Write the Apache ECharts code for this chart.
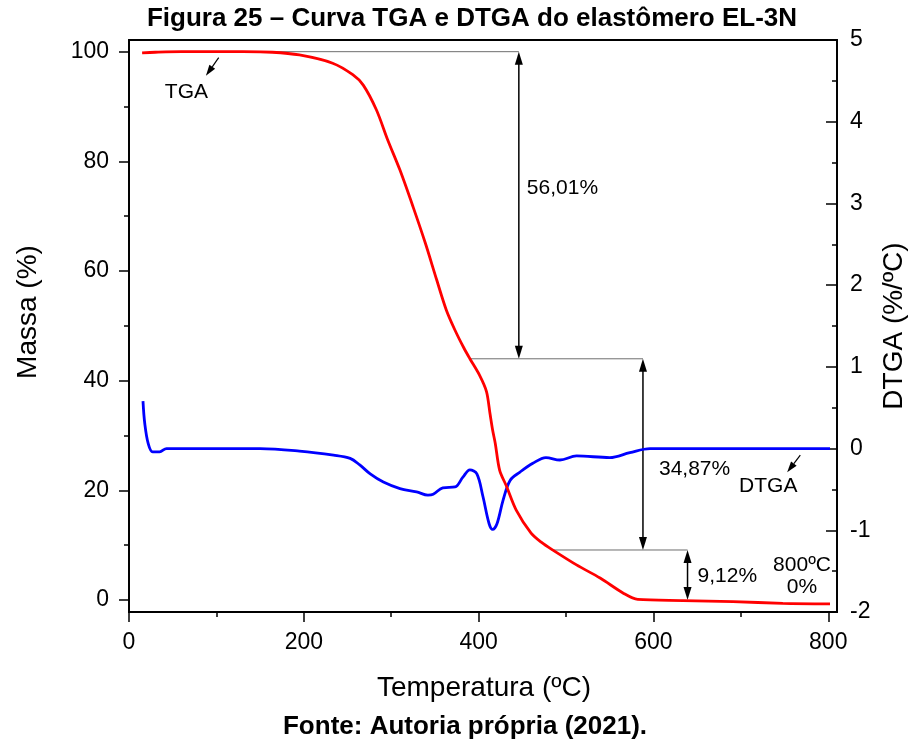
<!DOCTYPE html>
<html>
<head>
<meta charset="utf-8">
<title>Curva TGA e DTGA do elastômero EL-3N</title>
<script src="https://cdn.jsdelivr.net/npm/echarts@6/dist/echarts.min.js"></script>
<style>
  html, body { margin: 0; padding: 0; background: #ffffff; }
  #chart { width: 911px; height: 749px; }
</style>
</head>
<body>
<div id="chart"></div>
<script>
// TGA curve: temperature (ºC) and residual mass (%)
const tgaTemp = [15, 30, 60, 100, 130, 164, 195, 233, 256, 268, 283, 296, 310, 325, 339, 352, 363, 373, 383, 390,
                 401, 409, 413, 416, 419, 424, 432, 443, 460, 472, 485, 512, 539, 566, 582, 634, 691, 748, 802];
const tgaMass = [99.8, 99.9, 100, 100, 100, 99.9, 99.4, 97.9, 95.8, 93.9, 89.4, 83.9, 78.4, 71.7, 65.1, 58.4, 52.9, 49.2, 46.0, 44.0,
                 41.0, 38.0, 34.0, 31.0, 28.6, 23.7, 20.7, 16.4, 12.2, 10.5, 9.1, 6.4, 4.0, 1.2, 0.1, -0.1, -0.3, -0.6, -0.7];

// DTGA curve: temperature (ºC) and mass-loss rate (%/ºC)
const dtgaTemp = [16, 18, 22, 27, 35, 43, 150, 195, 234, 253, 264, 276, 291, 310, 329, 342, 348, 359, 373, 382,
                  390, 398, 405, 412, 416, 421, 428, 436, 447, 462, 477, 493, 512, 550, 573, 596, 802];
const dtgaRate = [0.58, 0.31, 0.06, -0.04, -0.04, 0, 0, -0.03, -0.08, -0.12, -0.2, -0.31, -0.41, -0.49, -0.53, -0.57, -0.56, -0.48, -0.47, -0.35,
                  -0.26, -0.31, -0.59, -0.92, -0.99, -0.92, -0.63, -0.39, -0.29, -0.18, -0.11, -0.14, -0.09, -0.11, -0.05, 0, 0];

// Mass-loss steps: mass levels bounding each step, the loss text, where each arrow stands
const stepLevels = [100, 43.99, 9.12, 0];
const stepLoss = ['56,01%', '34,87%', '9,12%'];
const stepArrowTemp = [446, 588, 639];
const stepLineStart = [150, 390, 485];

// Axis ticks
const tempTicks = [0, 200, 400, 600, 800];
const tempMinorTicks = [100, 300, 500, 700];
const massTicks = [0, 20, 40, 60, 80, 100];
const massMinorTicks = [10, 30, 50, 70, 90];

const FONT = "'Liberation Sans', Arial, sans-serif";

const tgaData = tgaTemp.map((t, i) => [t, tgaMass[i]]);
const dtgaData = dtgaTemp.map((t, i) => [t, dtgaRate[i]]);
const stepData = stepLoss.map((_, i) => [stepArrowTemp[i], stepLevels[i], stepLevels[i + 1], stepLineStart[i]]);

// where each step's text sits: mass level of its centre and gap to the right of the arrow
const stepTextPlace = [{ mass: 75.1, dx: 8 }, { mass: 23.9, dx: 16 }, { mass: 4.4, dx: 10 }];

function arrowHead(tip, dirY) {
  const len = 13, half = 4;
  return {
    type: 'polygon',
    shape: { points: [[tip[0], tip[1]], [tip[0] - half, tip[1] + dirY * len], [tip[0] + half, tip[1] + dirY * len]] },
    style: { fill: '#000000' }
  };
}

function renderStep(params, api) {
  const t = api.value(0), top = api.value(1), bot = api.value(2), start = api.value(3);
  const pTop = api.coord([t, top]);
  const pBot = api.coord([t, bot]);
  const pStart = api.coord([start, top]);
  const place = stepTextPlace[params.dataIndex];
  const pText = api.coord([t, place.mass]);
  return {
    type: 'group',
    children: [
      { type: 'line', shape: { x1: pStart[0], y1: pTop[1], x2: pTop[0], y2: pTop[1] },
        style: { stroke: '#6e6e6e', lineWidth: 1 } },
      { type: 'line', shape: { x1: pTop[0], y1: pTop[1] + 6, x2: pBot[0], y2: pBot[1] - 6 },
        style: { stroke: '#000000', lineWidth: 1.5 } },
      arrowHead(pTop, 1),
      arrowHead(pBot, -1),
      { type: 'text', x: pTop[0] + place.dx, y: pText[1],
        style: { text: stepLoss[params.dataIndex], fill: '#000000', fontSize: 21, fontFamily: FONT,
                 align: 'left', verticalAlign: 'middle' } }
    ]
  };
}

const axisLineStyle = { color: '#000000', width: 1.8 };
const tickStyle = { color: '#000000', width: 1.5 };
const tickLabel = { color: '#000000', fontSize: 23, fontFamily: FONT };

const chart = echarts.init(document.getElementById('chart'), null, { renderer: 'canvas' });

chart.setOption({
  animation: false,
  backgroundColor: '#ffffff',
  grid: { left: 129, right: 74, top: 40, bottom: 137, show: true, borderColor: '#000000', borderWidth: 1.8,
          backgroundColor: 'transparent' },
  xAxis: [
    { type: 'value', min: 0, max: 810, position: 'bottom',
      axisLine: { show: true, onZero: false, lineStyle: axisLineStyle },
      axisTick: { show: true, length: 10, lineStyle: tickStyle, customValues: tempTicks },
      axisLabel: { ...tickLabel, margin: 19, customValues: tempTicks },
      splitLine: { show: false } },
    { type: 'value', min: 0, max: 810, position: 'bottom',
      axisLine: { show: false, onZero: false },
      axisTick: { show: true, length: 5, lineStyle: tickStyle, customValues: tempMinorTicks },
      axisLabel: { show: false },
      splitLine: { show: false } }
  ],
  yAxis: [
    { type: 'value', min: -2.19, max: 102.13, position: 'left',
      axisLine: { show: true, onZero: false, lineStyle: axisLineStyle },
      axisTick: { show: true, length: 10, lineStyle: tickStyle, customValues: massTicks },
      axisLabel: { ...tickLabel, margin: 20, customValues: massTicks },
      splitLine: { show: false } },
    { type: 'value', min: -2, max: 5, interval: 1, position: 'right',
      axisLine: { show: true, onZero: false, lineStyle: axisLineStyle },
      axisTick: { show: true, inside: true, length: 11, lineStyle: tickStyle },
      minorTick: { show: true, splitNumber: 2, length: 5, lineStyle: tickStyle },
      axisLabel: { ...tickLabel, margin: 13 },
      splitLine: { show: false } },
    { type: 'value', min: -2.19, max: 102.13, position: 'left',
      axisLine: { show: false, onZero: false },
      axisTick: { show: true, length: 5, lineStyle: tickStyle, customValues: massMinorTicks },
      axisLabel: { show: false },
      splitLine: { show: false } }
  ],
  series: [
    { name: 'DTGA', type: 'line', xAxisIndex: 0, yAxisIndex: 1, data: dtgaData, smooth: 0.35,
      showSymbol: false, symbol: 'none', lineStyle: { color: '#0000ff', width: 2.8 }, z: 3 },
    { name: 'TGA', type: 'line', xAxisIndex: 0, yAxisIndex: 0, data: tgaData, smooth: 0.3,
      showSymbol: false, symbol: 'none', lineStyle: { color: '#ff0000', width: 2.8 }, z: 4 },
    { name: 'Perdas', type: 'custom', xAxisIndex: 0, yAxisIndex: 0, data: stepData, renderItem: renderStep,
      encode: { x: [0, 3], y: [1, 2] }, clip: false, silent: true, z: 2 }
  ]
});

// Callout texts and the small pointers next to them, anchored in data units
function px(pt, yAxis) { return chart.convertToPixel({ xAxisIndex: 0, yAxisIndex: yAxis }, pt); }

function pointer(from, to) {
  const dx = to[0] - from[0], dy = to[1] - from[1];
  const L = Math.hypot(dx, dy), ux = dx / L, uy = dy / L;
  const len = 11, half = 3.5;
  const bx = to[0] - ux * len, by = to[1] - uy * len;
  return [
    { type: 'line', shape: { x1: from[0], y1: from[1], x2: bx, y2: by }, style: { stroke: '#000', lineWidth: 1.2 } },
    { type: 'polygon', shape: { points: [[to[0], to[1]], [bx - uy * half, by + ux * half], [bx + uy * half, by - ux * half]] },
      style: { fill: '#000' } }
  ];
}

const tgaText = px([41, 92.6], 0);
const dtgaText = px([698, -0.458], 1);
const endText = px([770, 4.4], 0);

const graphics = [
  { type: 'text', x: 472, y: 19, style: { text: 'Figura 25 – Curva TGA e DTGA do elastômero EL-3N', fill: '#000',
      fontSize: 26, fontWeight: 'bold', fontFamily: FONT, align: 'center', verticalAlign: 'middle' } },
  { type: 'text', x: 465, y: 727, style: { text: 'Fonte: Autoria própria (2021).', fill: '#000',
      fontSize: 26, fontWeight: 'bold', fontFamily: FONT, align: 'center', verticalAlign: 'middle' } },
  { type: 'text', x: 484, y: 688, style: { text: 'Temperatura (ºC)', fill: '#000',
      fontSize: 28, fontFamily: FONT, align: 'center', verticalAlign: 'middle' } },
  { type: 'text', x: 28, y: 312, rotation: Math.PI / 2, style: { text: 'Massa (%)', fill: '#000',
      fontSize: 28, fontFamily: FONT, align: 'center', verticalAlign: 'middle' } },
  { type: 'text', x: 894, y: 326, rotation: Math.PI / 2, style: { text: 'DTGA (%/ºC)', fill: '#000',
      fontSize: 28, fontFamily: FONT, align: 'center', verticalAlign: 'middle' } },
  { type: 'text', x: tgaText[0], y: tgaText[1], style: { text: 'TGA', fill: '#000',
      fontSize: 21, fontFamily: FONT, align: 'left', verticalAlign: 'middle' } },
  { type: 'text', x: dtgaText[0], y: dtgaText[1], style: { text: 'DTGA', fill: '#000',
      fontSize: 21, fontFamily: FONT, align: 'left', verticalAlign: 'middle' } },
  { type: 'text', x: endText[0], y: endText[1], style: { text: '800ºC\n0%', fill: '#000',
      fontSize: 21, lineHeight: 22, fontFamily: FONT, align: 'center', verticalAlign: 'middle' } },
  ...pointer(px([102.6, 98.9], 0), px([88, 95.6], 0)),
  ...pointer(px([768, -0.08], 1), px([753, -0.29], 1))
];

chart.setOption({ graphic: graphics.map(g => ({ ...g, silent: true })) });
</script>
</body>
</html>
